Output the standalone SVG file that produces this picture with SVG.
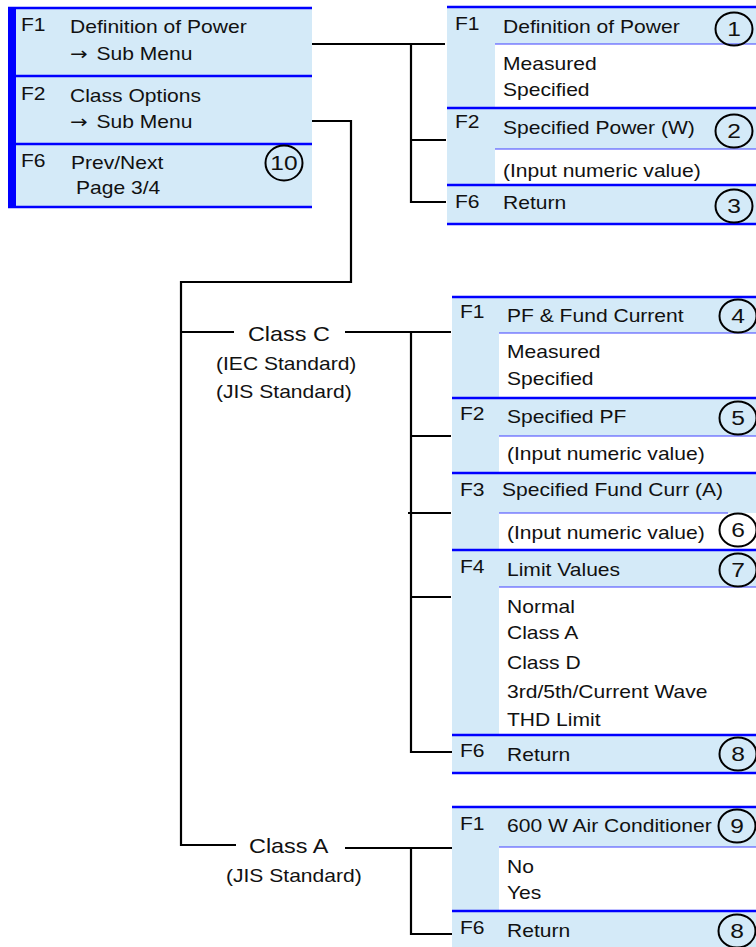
<svg xmlns="http://www.w3.org/2000/svg" width="756" height="947" viewBox="0 0 756 947">
  <style>
    .panel { fill: #d4eaf8; }
    .opts { fill: #ffffff; }
    .rule { stroke: #0000ff; stroke-width: 2.4; fill: none; }
    .sub { stroke: #4040ff; stroke-width: 1.2; fill: none; }
    .bar { fill: #0000ff; }
    .wire { stroke: #000000; stroke-width: 2.2; fill: none; }
    .badge { fill: none; stroke: #000000; stroke-width: 2; }
    text { font-family: "Liberation Sans", Arial, Helvetica, sans-serif; font-size: 18px; fill: #111111;
           transform-box: fill-box; transform-origin: 0 0; transform: scaleX(1.17); }
    .arrow { font-family: "DejaVu Sans", sans-serif; font-size: 18px; }
    .num { font-size: 21px; text-anchor: middle; transform-origin: 50% 0; }
    .cls { font-size: 20px; }
  </style>

  <rect width="756" height="947" fill="#ffffff"/>

  <!-- Connectors -->
  <g id="connectors">
    <!-- F1 Definition of Power to its submenu -->
    <path class="wire" d="M312 44 H445 M411 44 V202 H446 M411 140 H446"/>
    <!-- F2 Class Options to the two class submenus -->
    <path class="wire" d="M312 121 H351 V282 H181 V845 H236 M181 332 H234"/>
    <!-- Class C bus -->
    <path class="wire" d="M345 332 H451 M411 332 V752 H452 M411 436 H451 M408 513 H451 M411 597 H451"/>
    <!-- Class A bus -->
    <path class="wire" d="M345 848 H452 M411 848 V934 H452"/>
  </g>

  <!-- Page 3/4 soft-key menu -->
  <g id="menu-page3">
    <rect class="panel" x="8" y="8" width="304" height="199"/>
    <rect class="bar" x="8" y="7" width="8" height="201"/>
    <path class="rule" d="M8 8 H312 M8 76 H312 M8 144 H312 M8 207 H312"/>
    <text x="21" y="31">F1</text>
    <text x="70" y="33">Definition of Power</text>
    <text x="70" y="60"><tspan class="arrow">→</tspan> <tspan dx="2.5">Sub Menu</tspan></text>
    <text x="21" y="100">F2</text>
    <text x="70" y="102">Class Options</text>
    <text x="70" y="128"><tspan class="arrow">→</tspan> <tspan dx="2.5">Sub Menu</tspan></text>
    <text x="21" y="167">F6</text>
    <text x="71" y="169">Prev/Next</text>
    <text x="76" y="194">Page 3/4</text>
    <ellipse class="badge" cx="284" cy="163" rx="18.5" ry="17.5"/>
    <text class="num" x="284" y="170.5">10</text>
  </g>

  <!-- Definition of Power submenu -->
  <g id="menu-power">
    <rect class="panel" x="447" y="7" width="309" height="217"/>
    <rect class="opts" x="495" y="44" width="261" height="64"/>
    <rect class="opts" x="495" y="149" width="261" height="36"/>
    <path class="sub" d="M495 44 H756 M495 149 H756"/>
    <path class="rule" d="M447 7 H756 M447 108 H756 M447 185 H756 M447 224 H756"/>
    <text x="455" y="30">F1</text>
    <text x="503" y="33">Definition of Power</text>
    <text x="503" y="70">Measured</text>
    <text x="503" y="96">Specified</text>
    <text x="455" y="128">F2</text>
    <text x="503" y="134">Specified Power (W)</text>
    <text x="503" y="177">(Input numeric value)</text>
    <text x="455" y="208">F6</text>
    <text x="503" y="209">Return</text>
    <ellipse class="badge" cx="734" cy="29" rx="18.5" ry="16.5"/>
    <text class="num" x="734" y="36.5">1</text>
    <ellipse class="badge" cx="734" cy="131" rx="18.5" ry="16.5"/>
    <text class="num" x="734" y="138.5">2</text>
    <ellipse class="badge" cx="734" cy="206" rx="18.5" ry="16.5"/>
    <text class="num" x="734" y="213.5">3</text>
  </g>

  <!-- Class C label -->
  <g id="label-classc">
    <text class="cls" x="248" y="341">Class C</text>
    <text x="216" y="370">(IEC Standard)</text>
    <text x="216" y="398">(JIS Standard)</text>
  </g>

  <!-- Class C submenu -->
  <g id="menu-classc">
    <rect class="panel" x="452" y="297" width="304" height="476"/>
    <rect class="opts" x="499" y="333" width="257" height="65"/>
    <rect class="opts" x="499" y="436" width="257" height="37"/>
    <rect class="opts" x="499" y="513" width="257" height="37"/>
    <rect class="opts" x="499" y="587" width="257" height="148"/>
    <path class="sub" d="M499 333 H756 M499 436 H756 M499 513 H728 M499 587 H756"/>
    <path class="rule" d="M452 297 H756 M452 398 H756 M452 473 H756 M452 550 H756 M452 735 H756 M452 773 H756"/>
    <text x="460" y="318">F1</text>
    <text x="507" y="322">PF &amp; Fund Current</text>
    <text x="507" y="358">Measured</text>
    <text x="507" y="385">Specified</text>
    <text x="460" y="420">F2</text>
    <text x="507" y="423">Specified PF</text>
    <text x="507" y="460">(Input numeric value)</text>
    <text x="460" y="496">F3</text>
    <text x="502" y="496">Specified Fund Curr (A)</text>
    <text x="507" y="539">(Input numeric value)</text>
    <text x="460" y="573">F4</text>
    <text x="507" y="576">Limit Values</text>
    <text x="507" y="613">Normal</text>
    <text x="507" y="639">Class A</text>
    <text x="507" y="669">Class D</text>
    <text x="507" y="698">3rd/5th/Current Wave</text>
    <text x="507" y="726">THD Limit</text>
    <text x="460" y="757">F6</text>
    <text x="507" y="761">Return</text>
    <ellipse class="badge" cx="738" cy="316" rx="18.5" ry="16.5"/>
    <text class="num" x="738" y="323.5">4</text>
    <ellipse class="badge" cx="738" cy="418" rx="18.5" ry="16.5"/>
    <text class="num" x="738" y="425.5">5</text>
    <ellipse class="badge" cx="738" cy="530" rx="18.5" ry="16.5"/>
    <text class="num" x="738" y="537.5">6</text>
    <ellipse class="badge" cx="738" cy="570" rx="18.5" ry="16.5"/>
    <text class="num" x="738" y="577.5">7</text>
    <ellipse class="badge" cx="738" cy="754" rx="18.5" ry="16.5"/>
    <text class="num" x="738" y="761.5">8</text>
  </g>

  <!-- Class A label -->
  <g id="label-classa">
    <text class="cls" x="249" y="853">Class A</text>
    <text x="226" y="882">(JIS Standard)</text>
  </g>

  <!-- Class A submenu -->
  <g id="menu-classa">
    <rect class="panel" x="452" y="807" width="304" height="140"/>
    <rect class="opts" x="499" y="847" width="257" height="64"/>
    <path class="sub" d="M499 847 H756"/>
    <path class="rule" d="M452 807 H756 M452 911 H756"/>
    <text x="460" y="830">F1</text>
    <text x="507" y="832">600 W Air Conditioner</text>
    <text x="507" y="873">No</text>
    <text x="507" y="899">Yes</text>
    <text x="460" y="934">F6</text>
    <text x="507" y="937">Return</text>
    <ellipse class="badge" cx="737" cy="826" rx="18.5" ry="16.5"/>
    <text class="num" x="737" y="833.5">9</text>
    <ellipse class="badge" cx="737" cy="931" rx="18.5" ry="16.5"/>
    <text class="num" x="737" y="938.5">8</text>
  </g>
</svg>
